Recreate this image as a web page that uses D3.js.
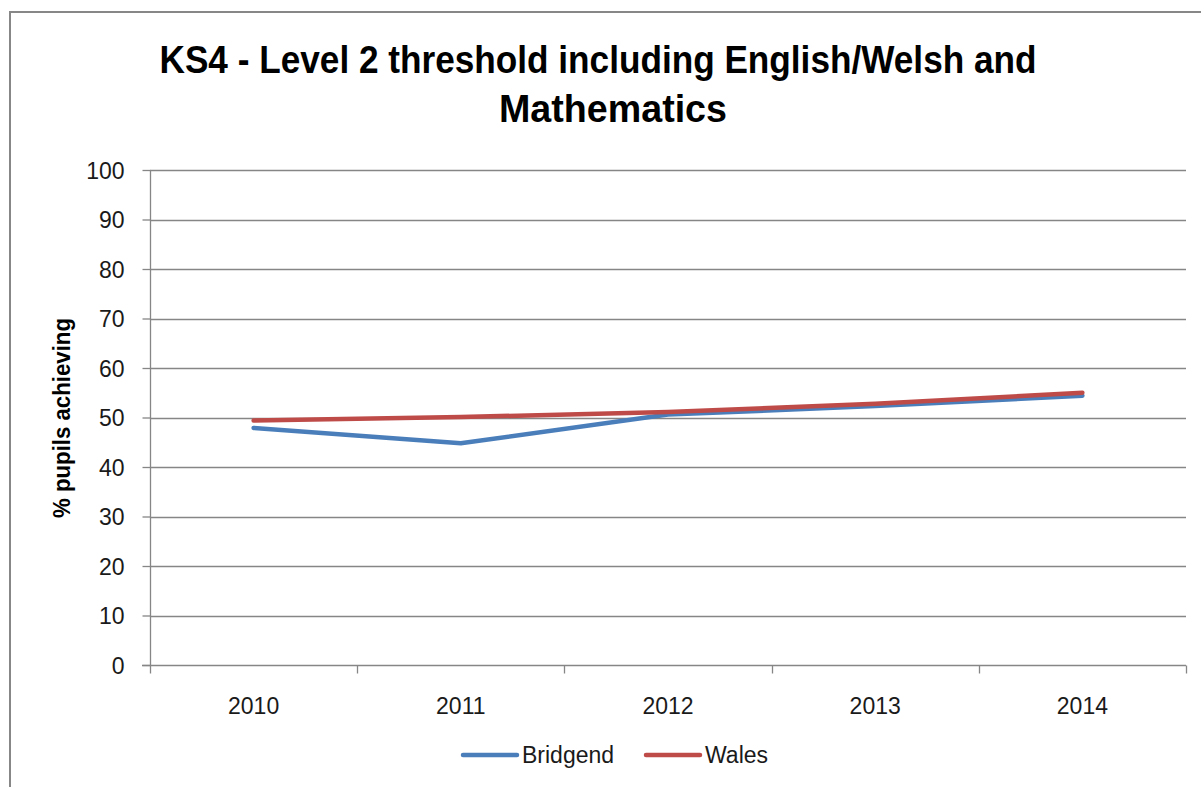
<!DOCTYPE html>
<html>
<head>
<meta charset="utf-8">
<script src="https://cdn.jsdelivr.net/npm/d3@7"></script>
<style>
  html, body { margin: 0; padding: 0; background: #ffffff; }
  svg { display: block; }
</style>
</head>
<body>
<svg id="chart" width="1201" height="787"></svg>
<script>
const categories = ["2010", "2011", "2012", "2013", "2014"];
const bridgend = [47.9, 44.8, 50.6, 52.3, 54.4];
const wales = [49.4, 50.1, 51.1, 52.8, 55.0];
const yTicks = [0, 10, 20, 30, 40, 50, 60, 70, 80, 90, 100];
const seriesNames = ["Bridgend", "Wales"];
const titleLines = ["KS4 - Level 2 threshold including English/Welsh and", "Mathematics"];
const yTitle = "% pupils achieving";

(function () {
const svg = d3.select("#chart");
const colors = ["#4a7ebb", "#be4b48"];
const gridColor = "#868686";
const font = "'Liberation Sans', Arial, sans-serif";

// outer chart border
svg.append("rect").attr("x", 10).attr("y", 12).attr("width", 1260).attr("height", 820)
  .attr("fill", "#fff").attr("stroke", "#878787").attr("stroke-width", 2);

const pl = 150, pr = 1186, pt = 170, pb = 665;
const x = d3.scaleBand().domain(categories).range([pl, pr]).padding(0);
const y = d3.scaleLinear().domain([0, 100]).range([pb, pt]);

// gridlines
svg.append("g").selectAll("line").data(yTicks.filter(d => d > 0)).join("line")
  .attr("x1", pl).attr("x2", pr)
  .attr("y1", d => Math.round(y(d)) + 0.5).attr("y2", d => Math.round(y(d)) + 0.5)
  .attr("stroke", gridColor).attr("stroke-width", 1.3);

// y axis
const yAxis = svg.append("g").attr("transform", `translate(${pl + 0.5},0)`)
  .call(d3.axisLeft(y).tickValues(yTicks).tickSize(8).tickPadding(18));
yAxis.select(".domain").attr("stroke", gridColor).attr("stroke-width", 1.3)
  .attr("d", `M0,${pt}V${pb}`);
yAxis.selectAll(".tick line").attr("stroke", gridColor).attr("stroke-width", 1.3);
yAxis.selectAll(".tick text").attr("font-family", font).attr("font-size", 23)
  .attr("fill", "#1a1a1a").attr("dy", "0.35em");

// x axis
const xAxis = svg.append("g").attr("transform", `translate(0,${pb + 0.5})`)
  .call(d3.axisBottom(x).tickSize(0).tickPadding(32));
xAxis.select(".domain").attr("stroke", gridColor).attr("stroke-width", 1.3)
  .attr("d", `M${pl - 8},0H${pr}`);
xAxis.selectAll(".tick text").attr("font-family", font).attr("font-size", 23).attr("fill", "#1a1a1a");
const edges = categories.map(c => x(c)).concat([x(categories[categories.length - 1]) + x.bandwidth()]);
xAxis.append("g").selectAll("line").data(edges).join("line")
  .attr("x1", d => Math.round(d) + 0.5).attr("x2", d => Math.round(d) + 0.5)
  .attr("y1", 0).attr("y2", 8).attr("stroke", gridColor).attr("stroke-width", 1.3);

// lines
const line = d3.line().x((d, i) => x(categories[i]) + x.bandwidth() / 2).y(d => y(d));
[bridgend, wales].forEach((s, i) => {
  svg.append("path").datum(s).attr("d", line).attr("fill", "none")
    .attr("stroke", colors[i]).attr("stroke-width", 4.5)
    .attr("stroke-linejoin", "round").attr("stroke-linecap", "round");
});

// title
const tl = svg.append("g");
tl.append("text").attr("x", 598).attr("y", 73).attr("text-anchor", "middle")
  .attr("font-family", font)
  .attr("font-weight", "bold").attr("font-size", 38).attr("fill", "#000")
  .attr("textLength", 877).attr("lengthAdjust", "spacingAndGlyphs").text(titleLines[0]);
tl.append("text").attr("x", 613).attr("y", 122).attr("text-anchor", "middle")
  .attr("font-family", font)
  .attr("font-weight", "bold").attr("font-size", 38).attr("fill", "#000")
  .attr("textLength", 228).attr("lengthAdjust", "spacingAndGlyphs").text(titleLines[1]);

// y axis title
svg.append("text").attr("transform", "translate(70,418) rotate(-90)")
  .attr("text-anchor", "middle").attr("font-family", font).attr("font-weight", "bold")
  .attr("font-size", 23).attr("fill", "#000")
  .attr("textLength", 200).attr("lengthAdjust", "spacingAndGlyphs").text(yTitle);

// legend
const legendX = [463, 646];
seriesNames.forEach((n, i) => {
  const g = svg.append("g");
  g.append("line").attr("x1", legendX[i]).attr("x2", legendX[i] + 54)
    .attr("y1", 755).attr("y2", 755).attr("stroke", colors[i]).attr("stroke-width", 4.5)
    .attr("stroke-linecap", "round");
  g.append("text").attr("x", legendX[i] + 59).attr("y", 763)
    .attr("font-family", font).attr("font-size", 23).attr("fill", "#1a1a1a").text(n);
});
})();
</script>
</body>
</html>
